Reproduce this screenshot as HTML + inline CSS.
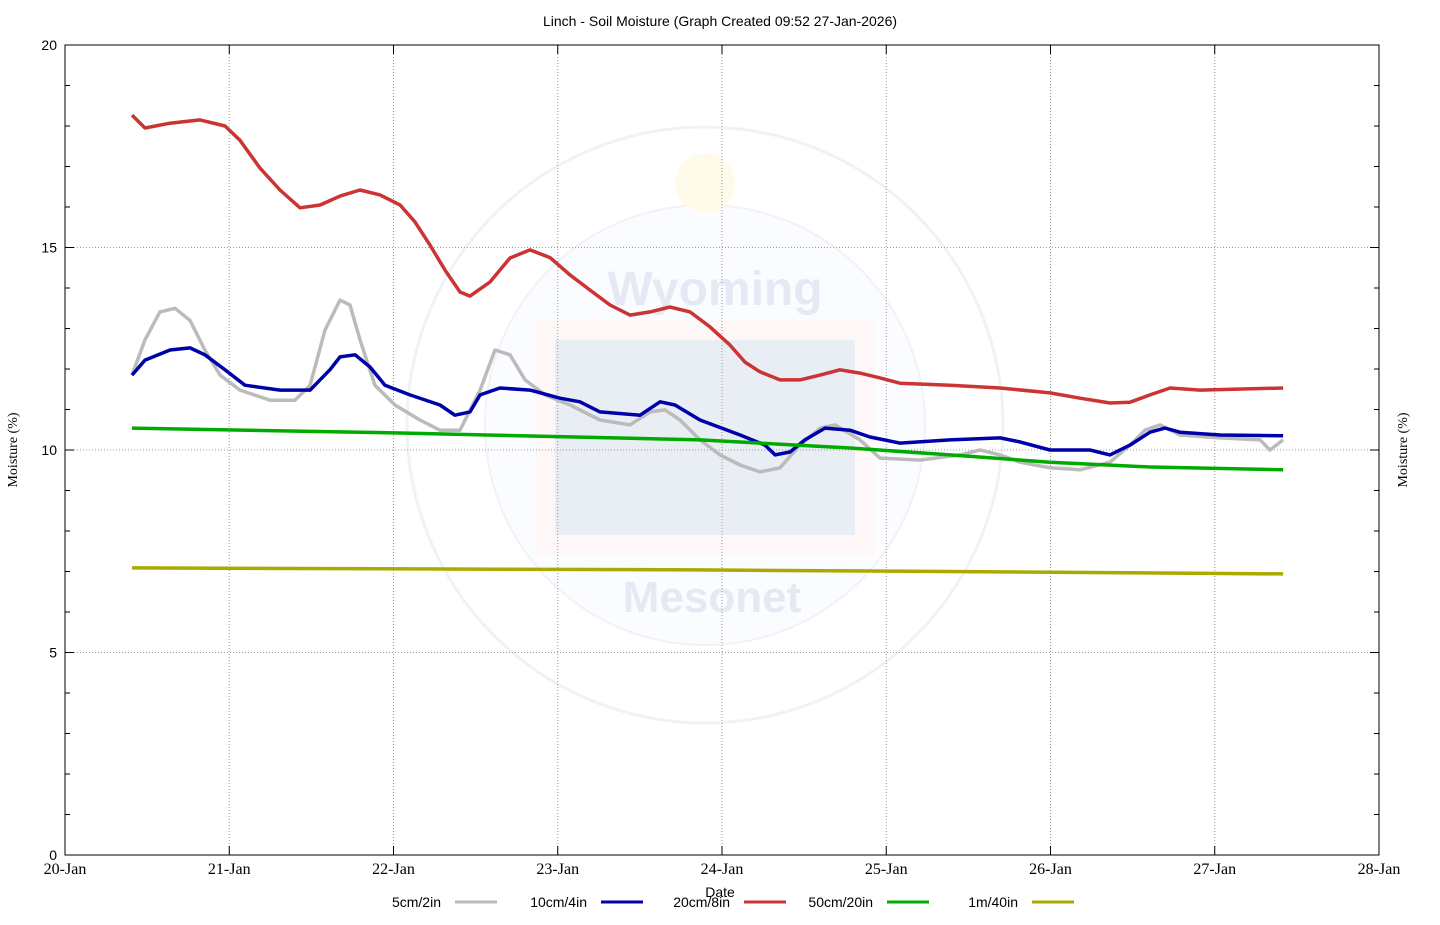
<!DOCTYPE html>
<html><head><meta charset="utf-8"><style>
body{margin:0;background:#fff;width:1440px;height:920px;overflow:hidden}
svg{font-family:"Liberation Sans",sans-serif}
</style></head><body>
<svg id="chart" width="1440" height="920">
<g opacity="0.12">
<circle cx="705" cy="425" r="298" fill="none" stroke="#8899bb" stroke-width="3"/>
<circle cx="705" cy="425" r="220" fill="#ddeeff" stroke="#8899bb" stroke-width="2"/>
<rect x="535" y="320" width="340" height="235" fill="#f6c0c0"/>
<rect x="555" y="340" width="300" height="195" fill="#5577aa"/>
<circle cx="705" cy="183" r="30" fill="#ffe060"/>
<text x="715" y="305" font-size="48" font-weight="bold" fill="#3355aa" text-anchor="middle">Wyoming</text>
<text x="712" y="612" font-size="44" font-weight="bold" fill="#3355aa" text-anchor="middle">Mesonet</text>
</g>
<g id="grid"></g>
<g id="axes"></g>
<g id="series"></g>
<text x="720" y="26" font-size="14" text-anchor="middle">Linch - Soil Moisture (Graph Created 09:52 27-Jan-2026)</text>
<text x="720" y="897" font-size="14" text-anchor="middle">Date</text>
<text transform="translate(17,450) rotate(-90)" font-family="Liberation Serif,serif" font-size="14" text-anchor="middle">Moisture (%)</text>
<text transform="translate(1407,450) rotate(-90)" font-family="Liberation Serif,serif" font-size="14" text-anchor="middle">Moisture (%)</text>
<g id="legend"></g>
</svg>
<script>
const xTickLabels=["20-Jan","21-Jan","22-Jan","23-Jan","24-Jan","25-Jan","26-Jan","27-Jan","28-Jan"];
const yTicks=[0,5,10,15,20];
const seriesNames=["5cm/2in","10cm/4in","20cm/8in","50cm/20in","1m/40in"];
const seriesColors=["#bbbbbb","#0000aa","#cc3333","#00aa00","#aaaa00"];
const tGray=[0.408,0.487,0.578,0.670,0.761,0.852,0.944,1.065,1.248,1.400,1.492,1.583,1.674,1.735,1.796,1.887,2.009,2.161,2.283,2.405,2.527,2.618,2.709,2.801,2.922,3.075,3.257,3.440,3.562,3.653,3.744,3.866,3.988,4.110,4.231,4.353,4.475,4.597,4.688,4.840,4.962,5.205,5.449,5.571,5.693,5.814,5.997,6.180,6.362,6.484,6.575,6.667,6.788,7.032,7.276,7.336,7.416];
const vGray=[11.85,12.72,13.41,13.5,13.2,12.47,11.85,11.48,11.23,11.23,11.6,12.96,13.7,13.58,12.72,11.6,11.11,10.74,10.49,10.49,11.48,12.47,12.35,11.73,11.36,11.11,10.74,10.62,10.94,10.99,10.74,10.25,9.88,9.63,9.46,9.56,10.12,10.54,10.62,10.25,9.8,9.75,9.88,10.0,9.88,9.7,9.56,9.51,9.7,10.12,10.49,10.62,10.37,10.3,10.25,10.0,10.25];
const tBlue=[0.408,0.487,0.639,0.761,0.852,0.974,1.096,1.309,1.492,1.613,1.674,1.766,1.857,1.948,2.100,2.283,2.374,2.466,2.527,2.648,2.831,3.014,3.135,3.257,3.501,3.623,3.714,3.866,4.110,4.262,4.323,4.414,4.505,4.627,4.779,4.901,5.084,5.388,5.693,5.814,5.997,6.240,6.362,6.484,6.606,6.697,6.788,7.032,7.416];
const vBlue=[11.85,12.22,12.47,12.52,12.35,11.98,11.6,11.48,11.48,11.98,12.3,12.35,12.05,11.6,11.36,11.11,10.86,10.94,11.36,11.53,11.48,11.28,11.19,10.94,10.86,11.19,11.11,10.74,10.37,10.12,9.88,9.95,10.25,10.54,10.49,10.32,10.17,10.25,10.3,10.2,10.0,10.0,9.88,10.12,10.44,10.54,10.44,10.37,10.35];
const tRed=[0.408,0.487,0.639,0.822,0.974,1.065,1.187,1.309,1.431,1.553,1.674,1.796,1.918,2.040,2.131,2.222,2.314,2.405,2.466,2.588,2.709,2.831,2.953,3.075,3.196,3.318,3.440,3.562,3.683,3.805,3.927,4.049,4.140,4.231,4.353,4.475,4.597,4.718,4.840,4.962,5.084,5.388,5.693,5.997,6.180,6.362,6.484,6.606,6.728,6.910,7.416];
const vRed=[18.27,17.95,18.07,18.15,18.0,17.65,16.96,16.42,15.98,16.05,16.27,16.42,16.3,16.05,15.63,15.06,14.44,13.9,13.8,14.15,14.74,14.94,14.75,14.32,13.95,13.58,13.33,13.41,13.53,13.41,13.04,12.59,12.17,11.93,11.73,11.73,11.85,11.98,11.9,11.78,11.65,11.6,11.53,11.41,11.28,11.16,11.18,11.36,11.53,11.48,11.53];
const tGreen=[0.408,2.040,3.866,4.779,5.388,5.997,6.606,7.416];
const vGreen=[10.54,10.42,10.25,10.05,9.88,9.70,9.58,9.51];
const tYellow=[0.408,3.866,5.693,7.416];
const vYellow=[7.09,7.04,6.99,6.94];
const X0=65,X1=1379,Y0=855,Y1=45,ns="http://www.w3.org/2000/svg";
const xs=d=>X0+d*(X1-X0)/8, ys=v=>Y0-v*(Y0-Y1)/20;
function el(tag,attrs,parent){const e=document.createElementNS(ns,tag);for(const k in attrs)e.setAttribute(k,attrs[k]);parent.appendChild(e);return e;}
const grid=document.getElementById('grid'),axes=document.getElementById('axes'),ser=document.getElementById('series'),leg=document.getElementById('legend');
for(let i=1;i<8;i++){const l=el('line',{x1:xs(i),x2:xs(i),y1:Y1,y2:Y0,stroke:'#999','stroke-dasharray':'1,2'},grid);

}
[5,10,15].forEach(v=>{const l=el('line',{x1:X0,x2:X1,y1:ys(v),y2:ys(v),stroke:'#999','stroke-dasharray':'1,2'},grid);

});
const fr=el('rect',{x:X0,y:Y1,width:X1-X0,height:Y0-Y1,fill:'none',stroke:'#000'},axes);


for(let v=0;v<=20;v++){const len=v%5?5:9;el('line',{x1:X0,x2:X0+len,y1:ys(v),y2:ys(v),stroke:'#000'},axes);el('line',{x1:X1,x2:X1-len,y1:ys(v),y2:ys(v),stroke:'#000'},axes);}
yTicks.forEach(v=>{const t=el('text',{x:X0-8,y:ys(v)+5,'font-size':14,'text-anchor':'end'},axes);t.textContent=v;

});
xTickLabels.forEach((s,i)=>{el('line',{x1:xs(i),x2:xs(i),y1:Y0,y2:Y0-9,stroke:'#000'},axes);el('line',{x1:xs(i),x2:xs(i),y1:Y1,y2:Y1+9,stroke:'#000'},axes);
const t=el('text',{x:xs(i),y:874,'font-size':16,'text-anchor':'middle','font-family':'Liberation Serif,serif'},axes);t.textContent=s;

});
const all=[[tGray,vGray],[tBlue,vBlue],[tRed,vRed],[tGreen,vGreen],[tYellow,vYellow]];
const order=[2,0,1,3,4];
order.forEach(k=>{const [t,v]=all[k];const p=el('polyline',{points:t.map((d,i)=>xs(d).toFixed(1)+','+ys(v[i]).toFixed(1)).join(' '),fill:'none',stroke:seriesColors[k],'stroke-width':3.5,'stroke-linejoin':'round'},ser);

});
const legX=[441,587,730,873,1018];
seriesNames.forEach((n,i)=>{const t=el('text',{x:legX[i],y:907,'font-size':14,'text-anchor':'end'},leg);t.textContent=n;


const l=el('line',{x1:legX[i]+14,x2:legX[i]+56,y1:902,y2:902,stroke:seriesColors[i],'stroke-width':3},leg);

});
</script>
</body></html>
